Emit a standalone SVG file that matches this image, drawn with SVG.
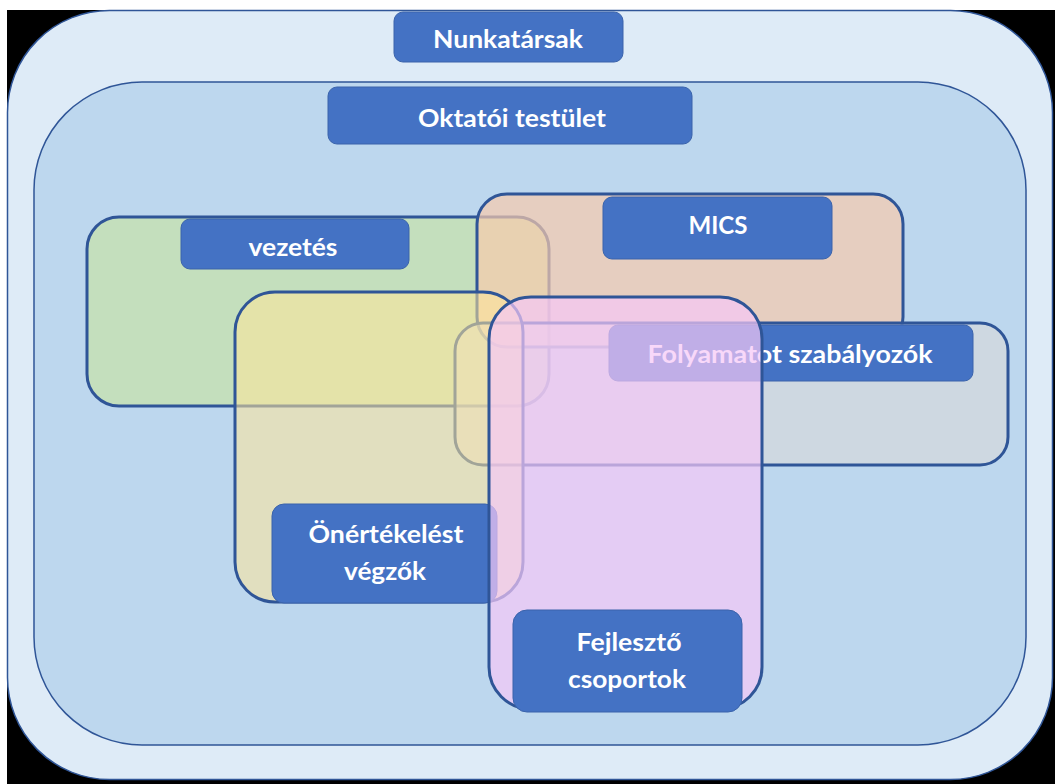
<svg xmlns="http://www.w3.org/2000/svg" width="1055" height="784" viewBox="0 0 1055 784">
  <style>
    .lbl { fill: #4472c4; stroke: #3a63ab; stroke-width: 1; }
    .txt { font-family: "Lato", "Liberation Sans", sans-serif; font-weight: bold; font-size: 25px; fill: #ffffff; text-anchor: middle; }
    .set { stroke: #2f5597; stroke-width: 3; }
    .frame { stroke: #2f5597; stroke-width: 1.5; }
  </style>
  <rect x="0" y="0" width="1055" height="784" fill="#ffffff"/>
  <rect x="7" y="10" width="1048" height="774" fill="#000000"/>

  <g id="nunkatarsak">
    <rect class="frame" x="7.5" y="10.5" width="1045" height="769" rx="102" fill="#deebf7"/>
    <rect class="lbl" x="394" y="12" width="229" height="50" rx="9"/>
    <text class="txt" x="508" y="48" textLength="150" lengthAdjust="spacingAndGlyphs">Nunkatársak</text>
  </g>

  <g id="oktatoi-testulet">
    <rect class="frame" x="34" y="82" width="992" height="663" rx="108" fill="#bdd7ee"/>
    <rect class="lbl" x="328" y="87" width="364" height="57" rx="9"/>
    <text class="txt" x="512" y="127" textLength="188" lengthAdjust="spacingAndGlyphs">Oktatói testület</text>
  </g>

  <g id="vezetes">
    <rect class="set" x="87" y="217" width="462" height="189" rx="32" fill="#c5e0b4" fill-opacity="0.85"/>
    <rect class="lbl" x="181" y="219" width="228" height="50" rx="9"/>
    <text class="txt" x="293" y="256" textLength="89" lengthAdjust="spacingAndGlyphs">vezetés</text>
  </g>

  <g id="mics">
    <rect class="set" x="477" y="194" width="426" height="153" rx="30" fill="#f8cbad" fill-opacity="0.7"/>
    <rect class="lbl" x="603" y="197" width="229" height="62" rx="9"/>
    <text class="txt" x="718" y="234" textLength="59" lengthAdjust="spacingAndGlyphs">MICS</text>
  </g>

  <g id="folyamatot-szabalyozok">
    <rect class="set" x="455" y="323" width="553" height="142" rx="28" fill="#d9d9d9" fill-opacity="0.6"/>
    <rect class="lbl" x="609" y="325" width="364" height="56" rx="9"/>
    <text class="txt" x="790" y="363" textLength="285" lengthAdjust="spacingAndGlyphs">Folyamatot szabályozók</text>
  </g>

  <g id="onertekelest-vegzok">
    <rect class="set" x="235" y="292" width="288" height="310" rx="40" fill="#ffe699" fill-opacity="0.55"/>
    <rect class="lbl" x="272" y="504" width="225" height="99" rx="12"/>
    <text class="txt" x="386" y="543" textLength="155" lengthAdjust="spacingAndGlyphs">Önértékelést</text>
    <text class="txt" x="385" y="580" textLength="82" lengthAdjust="spacingAndGlyphs">végzők</text>
  </g>

  <g id="fejleszto-csoportok">
    <rect class="set" x="489" y="297" width="273" height="412" rx="42" fill="#f5c7f7" fill-opacity="0.7"/>
    <rect class="lbl" x="513" y="610" width="229" height="102" rx="14"/>
    <text class="txt" x="629" y="651" textLength="105" lengthAdjust="spacingAndGlyphs">Fejlesztő</text>
    <text class="txt" x="627" y="688" textLength="118" lengthAdjust="spacingAndGlyphs">csoportok</text>
  </g>

  <g id="connectors"/>
</svg>
